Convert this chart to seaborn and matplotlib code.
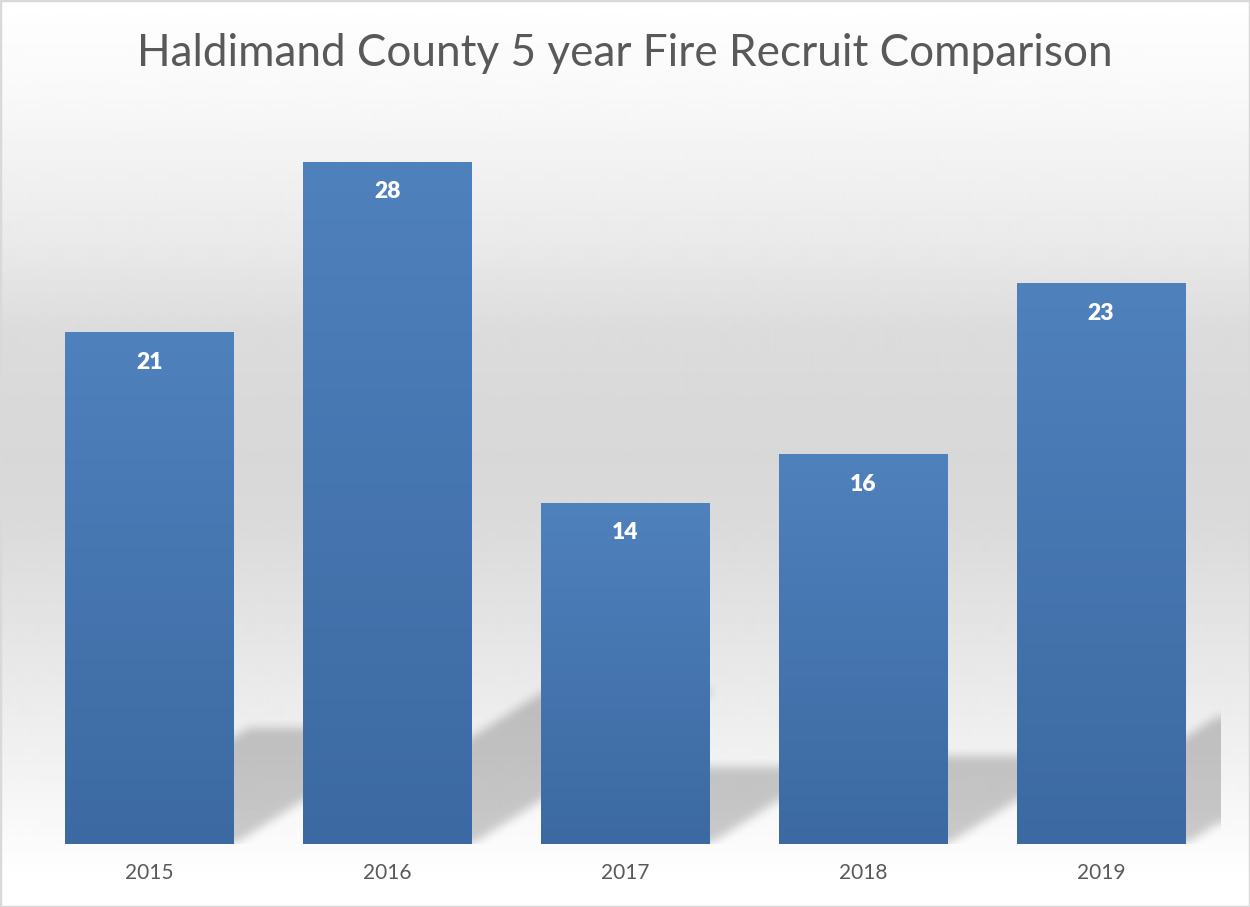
import numpy as np
import pandas as pd
import matplotlib
matplotlib.use("Agg")
import matplotlib.pyplot as plt
import seaborn as sns
from matplotlib.path import Path
from matplotlib.patches import Rectangle
from matplotlib.colors import LinearSegmentedColormap

# data
years = ["2015", "2016", "2017", "2018", "2019"]
recruits = [21, 28, 14, 16, 23]

df = pd.DataFrame({"year": years, "recruits": recruits})

sns.set_theme(style="white")
plt.rcParams["font.family"] = ["Lato", "DejaVu Sans"]

fig = plt.figure(figsize=(12.5, 9.07), dpi=100)
W, H = 1250, 907

# chart area background: vertical grey band, white at top and bottom
bg_ax = fig.add_axes([0, 0, 1, 1], zorder=0)
stop_y = [0, 100, 243, 330, 400, 459, 520, 602, 746, 818, 870, 907]
stop_v = [255, 248, 234, 220, 217, 216, 218, 226, 240, 248, 254, 255]
col = np.interp(np.arange(H), stop_y, stop_v) / 255
bg_ax.imshow(np.tile(col[:, None], (1, 10)), cmap="gray", vmin=0, vmax=1,
             extent=[0, 1, 0, 1], aspect="auto", interpolation="bilinear")
bg_ax.axis("off")

ax = fig.add_axes([0.0244, 0.0695, 0.9516, 0.806], zorder=1)
ax.patch.set_alpha(0)
sns.barplot(data=df, x="year", y="recruits", color="#4a7ab5", saturation=1,
            width=0.71, ax=ax)

ymax = 30
xlo, xhi = -0.5, len(years) - 0.5


def box_blur(a, r):
    # separable box blur using cumulative sums
    for axis in (0, 1):
        p = np.pad(a, [(r + 1, r) if i == axis else (0, 0) for i in range(2)], mode="edge")
        c = np.cumsum(p, axis=axis)
        if axis == 0:
            a = (c[2 * r + 1:] - c[:-2 * r - 1]) / (2 * r + 1)
        else:
            a = (c[:, 2 * r + 1:] - c[:, :-2 * r - 1]) / (2 * r + 1)
    return a


# perspective shadows cast by the bars
nx, ny = 1190, 731
gx = np.linspace(xlo, xhi, nx)
gy = np.linspace(ymax, 0, ny)
GX, GY = np.meshgrid(gx, gy)
pts = np.column_stack([GX.ravel(), GY.ravel()])
mask = np.zeros(nx * ny)
k, m = 0.0365, 0.2257
for bar in ax.patches:
    x0 = bar.get_x()
    x1 = x0 + bar.get_width()
    h = bar.get_height()
    poly = Path([(x0, 0), (x1, 0), (x1 + k * h, m * h), (x0 + k * h, m * h), (x0, 0)])
    mask = np.maximum(mask, poly.contains_points(pts).astype(float))
mask = mask.reshape(ny, nx)
mask = np.pad(mask, [(0, 20), (0, 0)])
mask = box_blur(box_blur(mask, 5), 5)[:ny]
shadow = np.zeros((ny, nx, 4))
shadow[..., 3] = 0.2 * mask
ax.imshow(shadow, extent=[xlo, xhi, 0, ymax], aspect="auto", zorder=0.5,
          interpolation="bilinear")

# gradient fill on each bar
grad = LinearSegmentedColormap.from_list("bar", ["#3c69a1", "#4f81bd"])
ramp = np.linspace(0, 1, 256).reshape(-1, 1)
for bar in ax.patches:
    bar.set_edgecolor("none")
    x0 = bar.get_x()
    h = bar.get_height()
    im = ax.imshow(ramp, cmap=grad, origin="lower", aspect="auto",
                   extent=[x0, x0 + bar.get_width(), 0, h], zorder=2)
    im.set_clip_path(bar)

for i, v in enumerate(recruits):
    ax.text(i, v - 1.23, str(v), ha="center", va="center", color="white",
            fontsize=16.5, fontweight="heavy", zorder=3)

ax.set_xlim(xlo, xhi)
ax.set_ylim(0, ymax)
ax.set_xlabel("")
ax.set_ylabel("")
ax.set_yticks([])
ax.tick_params(axis="x", length=0, pad=14, labelsize=15, labelcolor="#595959")
sns.despine(ax=ax, left=True, bottom=True)

fig.text(0.5, 1 - 54 / H, "Haldimand County 5 year Fire Recruit Comparison",
         ha="center", va="center", fontsize=31.8, color="#595959")

fig.add_artist(Rectangle((0, 0), 1, 1, transform=fig.transFigure, fill=False,
                         edgecolor="#d9d9d9", linewidth=2.5))

fig.savefig("out.png", dpi=100)
plt.close(fig)
